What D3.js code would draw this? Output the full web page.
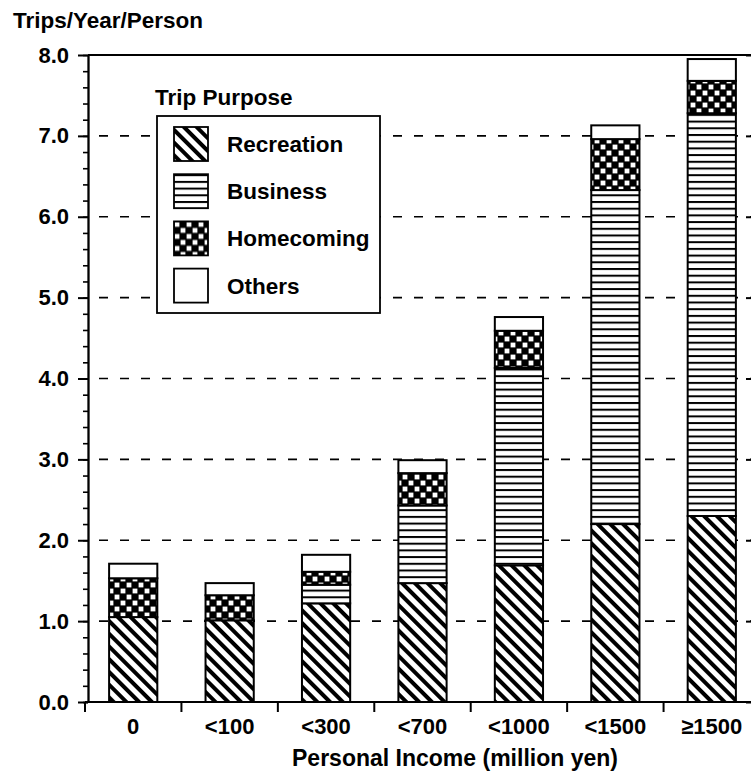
<!DOCTYPE html>
<html>
<head>
<meta charset="utf-8">
<script src="https://cdn.jsdelivr.net/npm/d3@7"></script>
<style>
  body { margin: 0; background: #fff; }
  svg text { font-family: "Liberation Sans", Arial, sans-serif; font-weight: bold; fill: #000; }
</style>
</head>
<body>
<svg id="chart" width="751" height="782"></svg>
<script>
// data (trips per year per person)
const categories = ['0', '<100', '<300', '<700', '<1000', '<1500', '≥1500'];
const recreation = [1.05, 1.01, 1.22, 1.47, 1.69, 2.20, 2.30];
const business   = [0.00, 0.00, 0.23, 0.96, 2.44, 4.13, 4.98];
const homecoming = [0.48, 0.31, 0.16, 0.40, 0.46, 0.63, 0.40];
const others     = [0.18, 0.15, 0.21, 0.16, 0.17, 0.17, 0.27];

const keys = ['recreation', 'business', 'homecoming', 'others'];
const legendLabels = ['Recreation', 'Business', 'Homecoming', 'Others'];
const yTicks = [0, 1, 2, 3, 4, 5, 6, 7, 8];

const rows = categories.map((c, i) => ({
    cat: c,
    recreation: recreation[i],
    business: business[i],
    homecoming: homecoming[i],
    others: others[i]
}));

const svg = d3.select('#chart');

const x = d3.scaleBand()
    .domain(categories)
    .range([85, 760])
    .paddingInner(0.5)
    .paddingOuter(0.25);

const y = d3.scaleLinear()
    .domain([0, 8])
    .range([702, 55]);

// fill patterns
const defs = svg.append('defs');

const pRec = defs.append('pattern')
    .attr('id', 'p_recreation')
    .attr('patternUnits', 'userSpaceOnUse')
    .attr('width', 9).attr('height', 9)
    .attr('patternTransform', 'rotate(45)');
pRec.append('rect').attr('width', 9).attr('height', 9).attr('fill', '#fff');
pRec.append('rect').attr('y', 0).attr('width', 9).attr('height', 4).attr('fill', '#000');

const pBus = defs.append('pattern')
    .attr('id', 'p_business')
    .attr('patternUnits', 'userSpaceOnUse')
    .attr('width', 8).attr('height', 6.7);
pBus.append('rect').attr('width', 8).attr('height', 6.7).attr('fill', '#fff');
pBus.append('rect').attr('y', 0).attr('width', 8).attr('height', 2).attr('fill', '#000');

const pHome = defs.append('pattern')
    .attr('id', 'p_homecoming')
    .attr('patternUnits', 'userSpaceOnUse')
    .attr('width', 12).attr('height', 12);
pHome.append('rect').attr('width', 12).attr('height', 12).attr('fill', '#000');
pHome.append('rect').attr('x', 0.6).attr('y', 0.6).attr('width', 4.8).attr('height', 4.8).attr('fill', '#fff');
pHome.append('rect').attr('x', 6.6).attr('y', 6.6).attr('width', 4.8).attr('height', 4.8).attr('fill', '#fff');

const fills = {
    recreation: 'url(#p_recreation)',
    business: 'url(#p_business)',
    homecoming: 'url(#p_homecoming)',
    others: '#fff'
};

// dashed grid lines
svg.append('g')
    .selectAll('line')
    .data(yTicks.filter(v => v > 0 && v < 8))
    .join('line')
    .attr('x1', 99).attr('x2', 760)
    .attr('y1', d => y(d)).attr('y2', d => y(d))
    .attr('stroke', '#000')
    .attr('stroke-width', 1.6)
    .attr('stroke-dasharray', '9,12');

// frame top
svg.append('line')
    .attr('x1', 88).attr('x2', 760)
    .attr('y1', y(8)).attr('y2', y(8))
    .attr('stroke', '#000').attr('stroke-width', 2);

// stacked bars
const stacked = d3.stack().keys(keys)(rows);

svg.append('g')
    .selectAll('g')
    .data(stacked)
    .join('g')
    .attr('fill', d => fills[d.key])
    .selectAll('rect')
    .data(d => d.filter(s => s[1] - s[0] > 0))
    .join('rect')
    .attr('x', d => x(d.data.cat))
    .attr('width', x.bandwidth())
    .attr('y', d => y(d[1]))
    .attr('height', d => y(d[0]) - y(d[1]))
    .attr('stroke', '#000')
    .attr('stroke-width', 2);

// y axis, minor then major
svg.append('g')
    .attr('transform', 'translate(88,0)')
    .call(d3.axisLeft(y).tickValues(d3.range(0, 8.001, 0.2)).tickSize(5).tickSizeOuter(0).tickFormat(''))
    .call(g => g.selectAll('line,path').attr('stroke-width', 1.6));

const yAxis = svg.append('g')
    .attr('transform', 'translate(88,0)')
    .call(d3.axisLeft(y).tickValues(yTicks).tickSize(10).tickSizeOuter(0).tickPadding(9).tickFormat(d3.format('.1f')));
yAxis.selectAll('line,path').attr('stroke-width', 2);
yAxis.selectAll('text').attr('font-size', 22).attr('font-family', null);

// right axis (mostly off the canvas)
svg.append('g')
    .attr('transform', 'translate(760,0)')
    .call(d3.axisRight(y).tickValues(yTicks).tickSize(-14).tickSizeOuter(0).tickFormat(''))
    .call(g => g.selectAll('line,path').attr('stroke-width', 2));

// x axis
const xAxis = svg.append('g')
    .attr('transform', `translate(0,${y(0)})`)
    .call(d3.axisBottom(x).tickSize(0).tickPadding(16).tickSizeOuter(0));
xAxis.select('.domain').attr('d', 'M85,0H760').attr('stroke-width', 2.2);
xAxis.selectAll('text').attr('font-size', 22).attr('font-family', null);

xAxis.selectAll('.bound')
    .data(categories)
    .join('line')
    .attr('class', 'bound')
    .attr('x1', d => x(d) + x.bandwidth() / 2 - x.step() / 2)
    .attr('x2', d => x(d) + x.bandwidth() / 2 - x.step() / 2)
    .attr('y1', 0).attr('y2', 10)
    .attr('stroke', '#000').attr('stroke-width', 2);

// axis titles
svg.append('text')
    .attr('x', 13).attr('y', 28)
    .attr('font-size', 22.5)
    .text('Trips/Year/Person');

svg.append('text')
    .attr('x', 455).attr('y', 766)
    .attr('text-anchor', 'middle')
    .attr('font-size', 23)
    .text('Personal Income (million yen)');

// legend
const legend = svg.append('g').attr('transform', 'translate(157,116)');

svg.append('text')
    .attr('x', 155).attr('y', 105)
    .attr('font-size', 22.5)
    .text('Trip Purpose');

legend.append('rect')
    .attr('width', 223).attr('height', 197)
    .attr('fill', '#fff').attr('stroke', '#000').attr('stroke-width', 1.8);

const items = legend.selectAll('.item')
    .data(keys)
    .join('g')
    .attr('class', 'item')
    .attr('transform', (d, i) => `translate(17,${11 + i * 47.2})`);

items.append('rect')
    .attr('width', 34).attr('height', 34)
    .attr('fill', d => fills[d])
    .attr('stroke', '#000').attr('stroke-width', 1.8);

items.append('text')
    .attr('x', 53).attr('y', 17)
    .attr('dy', '0.36em')
    .attr('font-size', 22.5)
    .text((d, i) => legendLabels[i]);
</script>
</body>
</html>
